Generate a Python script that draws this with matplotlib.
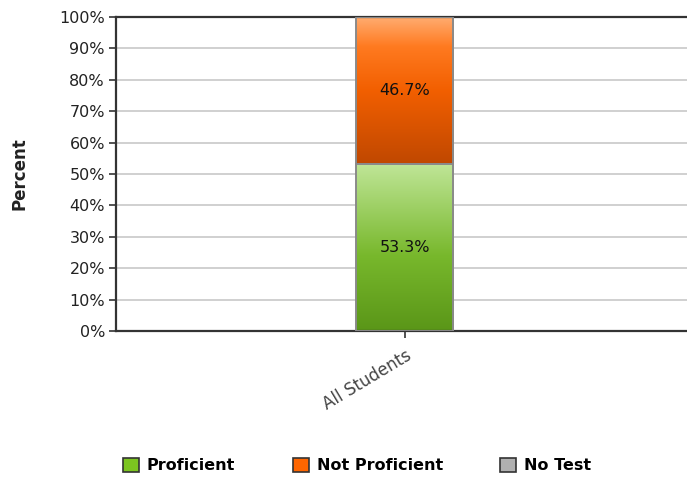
import numpy as np
import matplotlib
matplotlib.use('Agg')
import matplotlib.pyplot as plt
from matplotlib.colors import LinearSegmentedColormap
from matplotlib.patches import Patch

categories = ['All Students']
proficient = [53.3]
not_proficient = [46.7]
no_test = [0.0]
series_names = ['Proficient', 'Not Proficient', 'No Test']
legend_colors = ['#7cc520', '#ff6600', '#b0b0b0']
yticks = list(range(0, 101, 10))

fig = plt.figure(figsize=(6.87, 4.78), dpi=100)
ax = fig.add_axes([0.1689, 0.3075, 0.8311, 0.657])

x = np.arange(len(categories))
w = 0.17


def grad_bar(ax, xs, vals, bottoms, stops):
    bars = ax.bar(xs, vals, w, bottom=bottoms, color='none', edgecolor='#8a8a8a',
                  linewidth=1.4, zorder=3)
    cmap = LinearSegmentedColormap.from_list('g', stops)
    for b in bars:
        x0, y0 = b.get_x(), b.get_y()
        x1, y1 = x0 + b.get_width(), y0 + b.get_height()
        grad = np.linspace(0, 1, 256).reshape(-1, 1)
        im = ax.imshow(grad, cmap=cmap, origin='lower', extent=[x0, x1, y0, y1],
                       aspect='auto', zorder=2)
        im.set_clip_path(b)
    return bars


# bottom -> top colour stops
grad_bar(ax, x, proficient, 0,
         [(0, '#5a9618'), (0.45, '#78b82c'), (1, '#c0e698')])
grad_bar(ax, x, not_proficient, proficient,
         [(0, '#c04800'), (0.5, '#f25f00'), (0.8, '#ff7a20'), (1, '#ffac70')])

for i in range(len(categories)):
    ax.text(x[i], proficient[i] / 2, '%.1f%%' % proficient[i], ha='center', va='center',
            fontsize=11.5, color='#111111', zorder=4)
    ax.text(x[i], proficient[i] + not_proficient[i] / 2, '%.1f%%' % not_proficient[i],
            ha='center', va='center', fontsize=11.5, color='#111111', zorder=4)

ax.set_xlim(-0.506, 0.494)
ax.set_ylim(0, 100)
ax.set_yticks(yticks)
ax.set_yticklabels(['%d%%' % t for t in yticks], fontsize=11.5, color='#222222')
ax.set_xticks(x)
ax.set_xticklabels(categories, rotation=31, ha='right', rotation_mode='anchor',
                   fontsize=12, color='#444444')
ax.tick_params(axis='both', length=5, width=1.2, color='#333333')
ax.tick_params(axis='y', pad=3)
ax.tick_params(axis='x', pad=6)
ax.grid(axis='y', color='#c8c8c8', linewidth=1.2, zorder=0)
ax.set_axisbelow(True)
for s in ['left', 'bottom', 'top']:
    ax.spines[s].set_color('#333333')
    ax.spines[s].set_linewidth(1.6)
ax.spines['right'].set_visible(False)
ax.set_ylabel('Percent', fontsize=12, fontweight='bold', color='#222222', labelpad=22)

handles = [Patch(facecolor=c, edgecolor='#333333', linewidth=1.2) for c in legend_colors]
fig.legend(handles, series_names, loc='center', bbox_to_anchor=(0.52, 0.026), ncol=3,
           frameon=False, prop={'weight': 'bold', 'size': 11.5}, handlelength=1.0,
           handleheight=1.0, handletextpad=0.5, columnspacing=3.6)

fig.savefig('out.png', dpi=100)
